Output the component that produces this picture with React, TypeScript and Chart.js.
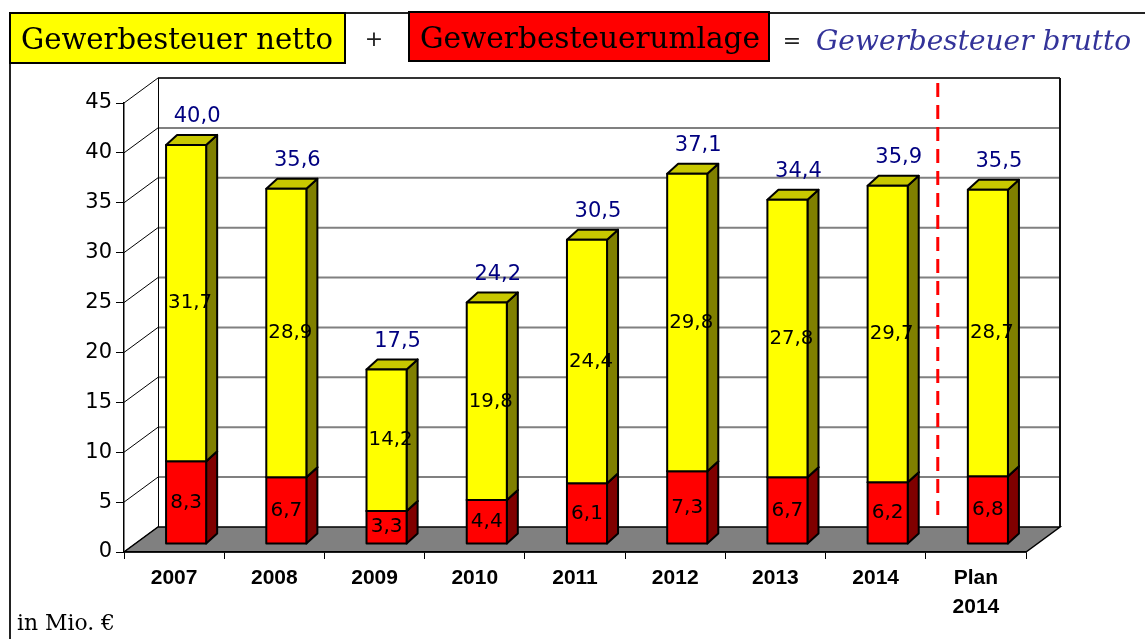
import React, { useEffect, useRef } from 'react';
import { Chart, registerables } from 'chart.js';
Chart.register(...registerables);

// ---- data ----
const categories: (string | string[])[] = ['2007', '2008', '2009', '2010', '2011', '2012', '2013', '2014', ['Plan', '2014']];
const umlage = [8.3, 6.7, 3.3, 4.4, 6.1, 7.3, 6.7, 6.2, 6.8];
const netto = [31.7, 28.9, 14.2, 19.8, 24.4, 29.8, 27.8, 29.7, 28.7];
const brutto = [40.0, 35.6, 17.5, 24.2, 30.5, 37.1, 34.4, 35.9, 35.5];
const yMin = 0;
const yMax = 45;
const yStep = 5;
const legendTexts = ['Gewerbesteuer netto', 'Gewerbesteuerumlage', 'Gewerbesteuer brutto'];
const unitText = 'in Mio. €';

// ---- 3D geometry (style) ----
const BAR_DX = 12;
const BAR_DY = -8;
const DEPTH_X = 11;
const DEPTH_Y = -10;
const WALL_DX = 34;
const WALL_DY = -25;

const fmt = (v: number) => v.toFixed(1).replace('.', ',');

const palettes = [
  { front: '#FF0000', side: '#800000', top: '#C00000' },
  { front: '#FFFF00', side: '#808000', top: '#C8C800' },
];
const labelShift = [0, 4];

function box3d(ctx: CanvasRenderingContext2D, l: number, r: number, t: number, b: number, p: any) {
  ctx.lineWidth = 2;
  ctx.strokeStyle = '#000';
  ctx.lineJoin = 'round';
  ctx.beginPath();
  ctx.moveTo(r, t);
  ctx.lineTo(r + DEPTH_X, t + DEPTH_Y);
  ctx.lineTo(r + DEPTH_X, b + DEPTH_Y);
  ctx.lineTo(r, b);
  ctx.closePath();
  ctx.fillStyle = p.side;
  ctx.fill();
  ctx.stroke();
  ctx.beginPath();
  ctx.moveTo(l, t);
  ctx.lineTo(l + DEPTH_X, t + DEPTH_Y);
  ctx.lineTo(r + DEPTH_X, t + DEPTH_Y);
  ctx.lineTo(r, t);
  ctx.closePath();
  ctx.fillStyle = p.top;
  ctx.fill();
  ctx.stroke();
  ctx.fillStyle = p.front;
  ctx.fillRect(l, t, r - l, b - t);
  ctx.strokeRect(l, t, r - l, b - t);
}

const scenePlugin = {
  id: 'scene3d',
  beforeDraw(chart: any) {
    const ctx: CanvasRenderingContext2D = chart.ctx;
    const ys = chart.scales.y;
    const L = chart.chartArea.left;
    const R = chart.chartArea.right;
    const y0 = ys.getPixelForValue(yMin);
    const yT = ys.getPixelForValue(yMax);
    ctx.save();

    // page frame
    ctx.strokeStyle = '#222';
    ctx.lineWidth = 2;
    ctx.beginPath();
    ctx.moveTo(10, 639);
    ctx.lineTo(10, 13);
    ctx.lineTo(1145, 13);
    ctx.stroke();

    // header legend
    ctx.lineWidth = 2;
    ctx.strokeStyle = '#000';
    ctx.fillStyle = '#FFFF00';
    ctx.fillRect(10, 13, 335, 50);
    ctx.strokeRect(10, 13, 335, 50);
    ctx.fillStyle = '#FF0000';
    ctx.fillRect(409, 12, 360, 49);
    ctx.strokeRect(409, 12, 360, 49);

    ctx.textBaseline = 'alphabetic';
    ctx.textAlign = 'left';
    ctx.fillStyle = '#000';
    ctx.font = '30px "DejaVu Serif"';
    ctx.fillText(legendTexts[0], 21, 49, 312);
    ctx.fillText(legendTexts[1], 420, 48, 340);
    ctx.font = 'italic 28px "DejaVu Serif"';
    ctx.fillStyle = '#333399';
    ctx.fillText(legendTexts[2], 816, 50, 324);
    ctx.fillStyle = '#222';
    ctx.font = '22px "DejaVu Sans"';
    ctx.textAlign = 'center';
    ctx.textBaseline = 'middle';
    ctx.fillText('+', 374, 40);
    ctx.fillText('=', 792, 42);

    // back wall
    ctx.fillStyle = '#fff';
    ctx.fillRect(L + WALL_DX, yT + WALL_DY, R - L, y0 - yT);
    ctx.strokeStyle = '#808080';
    ctx.lineWidth = 2;
    for (let v = yMin + yStep; v < yMax; v += yStep) {
      const py = ys.getPixelForValue(v) + WALL_DY;
      ctx.beginPath();
      ctx.moveTo(L + WALL_DX, py);
      ctx.lineTo(R + WALL_DX, py);
      ctx.stroke();
    }
    ctx.strokeStyle = '#333';
    ctx.beginPath();
    ctx.moveTo(L + WALL_DX, yT + WALL_DY);
    ctx.lineTo(R + WALL_DX, yT + WALL_DY);
    ctx.stroke();
    ctx.strokeStyle = '#111';
    ctx.beginPath();
    ctx.moveTo(R + WALL_DX, yT + WALL_DY);
    ctx.lineTo(R + WALL_DX, y0 + WALL_DY);
    ctx.stroke();
    ctx.lineWidth = 1;
    ctx.strokeStyle = '#000';
    ctx.beginPath();
    ctx.moveTo(L + WALL_DX + 0.5, yT + WALL_DY);
    ctx.lineTo(L + WALL_DX + 0.5, y0 + WALL_DY);
    ctx.stroke();

    // side wall diagonals
    for (let v = yMin; v <= yMax; v += yStep) {
      const py = ys.getPixelForValue(v);
      ctx.beginPath();
      ctx.moveTo(L, py);
      ctx.lineTo(L + WALL_DX, py + WALL_DY);
      ctx.stroke();
    }

    // floor
    ctx.beginPath();
    ctx.moveTo(L, y0);
    ctx.lineTo(R, y0);
    ctx.lineTo(R + WALL_DX, y0 + WALL_DY);
    ctx.lineTo(L + WALL_DX, y0 + WALL_DY);
    ctx.closePath();
    ctx.fillStyle = '#808080';
    ctx.fill();
    ctx.strokeStyle = '#000';
    ctx.lineWidth = 1.5;
    ctx.stroke();
    ctx.restore();
  },
  afterDatasetsDraw(chart: any) {
    const ctx: CanvasRenderingContext2D = chart.ctx;
    const xs = chart.scales.x;
    const ys = chart.scales.y;
    const y0 = ys.getPixelForValue(yMin);
    const yT = ys.getPixelForValue(yMax);
    ctx.save();

    // plan separator
    const sx = (xs.getPixelForValue(categories.length - 2) + xs.getPixelForValue(categories.length - 1)) / 2 + BAR_DX;
    ctx.strokeStyle = '#FF0000';
    ctx.lineWidth = 3;
    ctx.setLineDash([14, 8]);
    ctx.beginPath();
    ctx.moveTo(sx, yT + BAR_DY - 12);
    ctx.lineTo(sx, y0 - 32);
    ctx.stroke();
    ctx.setLineDash([]);

    const metas = [chart.getDatasetMeta(0), chart.getDatasetMeta(1)];
    for (let i = 0; i < categories.length; i++) {
      metas.forEach((meta, d) => {
        const el = meta.data[i];
        const { x, y, base, width } = el.getProps(['x', 'y', 'base', 'width'], true);
        box3d(ctx, x - width / 2 + BAR_DX, x + width / 2 + BAR_DX, y + BAR_DY, base + BAR_DY, palettes[d]);
      });
    }

    // segment labels
    ctx.textAlign = 'center';
    ctx.textBaseline = 'middle';
    ctx.fillStyle = '#000';
    ctx.font = '20px "DejaVu Sans"';
    metas.forEach((meta, d) => {
      const values = chart.data.datasets[d].data;
      meta.data.forEach((el: any, i: number) => {
        const { x, y, base } = el.getProps(['x', 'y', 'base'], true);
        ctx.fillText(fmt(values[i]), x + BAR_DX + labelShift[d], (y + base) / 2 + BAR_DY, 44);
      });
    });

    // totals
    ctx.fillStyle = '#000080';
    ctx.font = '21px "DejaVu Sans"';
    metas[1].data.forEach((el: any, i: number) => {
      const { x, y } = el.getProps(['x', 'y'], true);
      ctx.fillText(fmt(brutto[i]), x + BAR_DX + 11, y + BAR_DY - 28);
    });

    // unit
    ctx.textAlign = 'left';
    ctx.textBaseline = 'alphabetic';
    ctx.fillStyle = '#000';
    ctx.font = '22px "DejaVu Serif"';
    ctx.fillText(unitText, 17, 630, 98);
    ctx.restore();
  },
};

export default function App() {
  const ref = useRef<HTMLCanvasElement>(null);
  useEffect(() => {
    document.body.style.margin = '0';
    const canvas = ref.current;
    if (!canvas) return;
    const chart = new Chart(canvas, {
      type: 'bar',
      data: {
        labels: categories as any,
        datasets: [
          { label: legendTexts[1], data: umlage, backgroundColor: 'rgba(0,0,0,0)', borderWidth: 0, categoryPercentage: 1, barPercentage: 0.4 },
          { label: legendTexts[0], data: netto, backgroundColor: 'rgba(0,0,0,0)', borderWidth: 0, categoryPercentage: 1, barPercentage: 0.4 },
        ],
      },
      options: {
        responsive: false,
        animation: false,
        events: [],
        layout: { padding: { left: 0, right: 119, top: 103, bottom: 0 } },
        plugins: { legend: { display: false }, tooltip: { enabled: false }, title: { display: false } },
        scales: {
          x: {
            stacked: true,
            offset: true,
            grid: { display: true, drawOnChartArea: false, drawTicks: true, tickLength: 7, color: '#000', lineWidth: 1, offset: true },
            border: { display: true, color: '#000', width: 1.5 },
            ticks: { color: '#000', font: { family: 'Liberation Sans', size: 21, weight: 'bold', lineHeight: 1.38 }, padding: 5, maxRotation: 0, autoSkip: false },
            afterFit: (s: any) => { s.height = 87; },
          },
          y: {
            stacked: true,
            min: yMin,
            max: yMax,
            ticks: { stepSize: yStep, color: '#000', font: { family: 'DejaVu Sans', size: 21 }, padding: 4 },
            grid: { display: true, drawOnChartArea: false, drawTicks: true, tickLength: 8, color: '#000', lineWidth: 1 },
            border: { display: true, color: '#000', width: 1.5 },
            afterFit: (s: any) => { s.width = 124; },
          },
        },
      } as any,
      plugins: [scenePlugin],
    });
    return () => chart.destroy();
  }, []);
  return <canvas ref={ref} width={1145} height={639} style={{ display: 'block', width: 1145, height: 639 }} />;
}
